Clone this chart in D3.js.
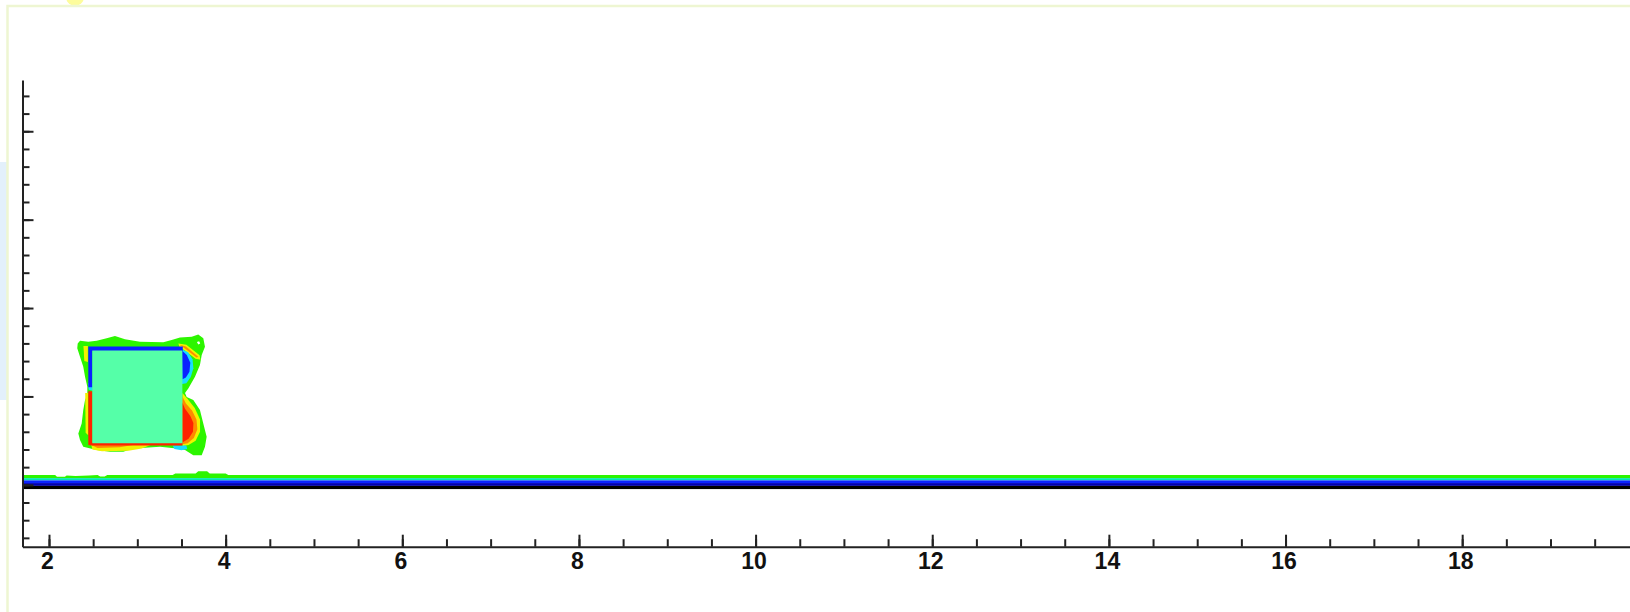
<!DOCTYPE html>
<html>
<head>
<meta charset="utf-8">
<script src="https://cdn.jsdelivr.net/npm/d3@7.9.0/dist/d3.min.js"></script>
<style>
  body { margin: 0; background: #fff; }
  svg { display: block; }
  .axis path, .axis line { stroke: #222; stroke-width: 2; }
</style>
</head>
<body>
<svg id="chart" width="1630" height="612"></svg>
<script>
// tick labels on the bottom axis
const xMajor = [2, 4, 6, 8, 10, 12, 14, 16, 18];
const yMajor = [0, 1, 2, 3, 4];

// square body (x, y in plot units)
const body = [[2.49, 0.47], [3.51, 0.47], [3.51, 1.52], [2.49, 1.52]];

// outer contour (level 0) round the square
const halo = [
  [2.325, 1.600], [2.351, 1.630], [2.445, 1.619], [2.540, 1.630], [2.653, 1.657],
  [2.747, 1.683], [2.860, 1.646], [3.030, 1.619], [3.294, 1.612], [3.389, 1.638],
  [3.483, 1.668], [3.616, 1.675], [3.690, 1.702], [3.747, 1.657], [3.766, 1.562],
  [3.729, 1.468], [3.709, 1.355], [3.653, 1.222], [3.577, 1.091], [3.540, 1.038],
  [3.559, 0.993], [3.634, 0.959], [3.709, 0.846], [3.747, 0.695], [3.785, 0.543],
  [3.766, 0.430], [3.729, 0.336], [3.634, 0.336], [3.540, 0.393], [3.446, 0.412],
  [3.257, 0.430], [2.954, 0.412], [2.841, 0.374], [2.691, 0.374], [2.540, 0.393],
  [2.388, 0.430], [2.351, 0.506], [2.332, 0.582], [2.370, 0.695], [2.388, 0.846],
  [2.408, 0.959], [2.434, 1.015], [2.434, 1.109], [2.408, 1.222], [2.388, 1.336],
  [2.351, 1.449], [2.320, 1.544]
];
const haloHole = [[3.675, 1.615], [3.700, 1.625], [3.712, 1.600], [3.690, 1.588]];

// suction side (top / left / upper right)
const topBlue = [[2.445, 1.565], [3.515, 1.565], [3.515, 1.515], [2.492, 1.515], [2.492, 1.105], [2.445, 1.105]];
const leftCyan = [[2.440, 1.150], [2.495, 1.150], [2.495, 1.065], [2.450, 1.075]];
const cornerCyan = [[3.505, 1.535], [3.575, 1.500], [3.625, 1.420], [3.635, 1.320], [3.605, 1.220], [3.555, 1.150], [3.505, 1.140]];
const cornerBlue = [[3.505, 1.520], [3.560, 1.470], [3.600, 1.380], [3.590, 1.280], [3.550, 1.215], [3.512, 1.195]];
const cornerYellow = [[3.465, 1.600], [3.555, 1.585], [3.705, 1.465], [3.715, 1.415], [3.660, 1.425], [3.530, 1.525], [3.480, 1.550]];
const cornerOrange = [[3.480, 1.585], [3.550, 1.565], [3.690, 1.450], [3.670, 1.440], [3.535, 1.545]];
const leftYellow = [[2.390, 1.570], [2.440, 1.570], [2.440, 1.390], [2.400, 1.400]];

// pressure side (left / bottom / lower right)
const leftYellowLow = [[2.410, 1.040], [2.445, 1.040], [2.445, 0.560], [2.415, 0.590]];
const leftRed = [[2.445, 1.060], [2.492, 1.060], [2.492, 0.445], [2.445, 0.450]];
const bottomYellow = [[2.480, 0.450], [3.150, 0.450], [3.050, 0.410], [2.900, 0.385], [2.600, 0.380], [2.490, 0.400]];
const bottomOrange = [[2.480, 0.450], [2.950, 0.450], [2.800, 0.425], [2.550, 0.418]];
const bottomRed = [[2.487, 0.483], [3.511, 0.483], [3.511, 0.444], [2.487, 0.444]];
const bottomCyan = [[3.400, 0.445], [3.555, 0.445], [3.565, 0.405], [3.500, 0.390], [3.420, 0.405]];
const rightYellow = [[3.510, 1.040], [3.570, 0.970], [3.650, 0.870], [3.710, 0.740], [3.710, 0.600], [3.660, 0.500], [3.580, 0.450], [3.510, 0.440]];
const rightOrange = [[3.510, 1.000], [3.550, 0.920], [3.620, 0.840], [3.670, 0.740], [3.680, 0.630], [3.640, 0.530], [3.570, 0.470], [3.510, 0.460]];
const rightRed = [[3.510, 0.930], [3.540, 0.860], [3.600, 0.780], [3.635, 0.700], [3.630, 0.600], [3.580, 0.520], [3.510, 0.480]];

// wall layer: top edge of the green band, then flat band limits
const wallTop = [
  [1.70, 0.110], [2.07, 0.110], [2.09, 0.090], [2.18, 0.090], [2.20, 0.105], [2.30, 0.100],
  [2.45, 0.105], [2.55, 0.110], [2.58, 0.095], [2.63, 0.095], [2.66, 0.110], [3.40, 0.110],
  [3.43, 0.129], [3.66, 0.129], [3.69, 0.155], [3.79, 0.155], [3.82, 0.129], [4.00, 0.129],
  [4.03, 0.110], [19.9, 0.110]
];
const wallLevels = ['seafoam', 'blue', 'navy', 'wall'];
const wallLimits = [[0.076, 0.050], [0.050, 0.020], [0.020, -0.012], [-0.012, -0.048]];

const color = d3.scaleOrdinal()
  .domain(['green', 'seafoam', 'cyan', 'blue', 'navy', 'wall', 'body', 'yellow', 'orange', 'red', 'none'])
  .range(['#2cf500', '#00e6b0', '#19dcff', '#0a22ff', '#0000b4', '#000000', '#55ffa8', '#f2f200', '#ff8a00', '#ff2200', '#ffffff']);

const svg = d3.select('#chart');
const W = 1630, H = 612;

const x = d3.scaleLinear().domain([1.7, 19.9]).range([22.5, 1630]);
const y = d3.scaleLinear().domain([-0.7, 4.58]).range([546.7, 80]);

// screenshot frame and bits of the window behind it
svg.append('rect').attr('x', 0).attr('y', 162).attr('width', 7).attr('height', 238).attr('fill', '#e3f0fb');
svg.append('circle').attr('cx', 75).attr('cy', -3).attr('r', 9).attr('fill', '#fdfc9c');
svg.append('path')
  .attr('d', `M7.5,${H} V6 H${W}`)
  .attr('fill', 'none').attr('stroke', '#eef6d2').attr('stroke-width', 2.5);

svg.append('clipPath').attr('id', 'plot')
  .append('rect').attr('x', x.range()[0]).attr('y', y.range()[1])
  .attr('width', W - x.range()[0]).attr('height', y.range()[0] - y.range()[1]);

const line = d3.line().x(d => x(d[0])).y(d => y(d[1]));
const g = svg.append('g').attr('clip-path', 'url(#plot)');

const shapes = [
  [halo, 'green'], [haloHole, 'none'],
  [leftYellow, 'yellow'], [cornerYellow, 'yellow'], [cornerOrange, 'orange'],
  [cornerCyan, 'cyan'], [cornerBlue, 'blue'], [leftCyan, 'cyan'], [topBlue, 'blue'],
  [leftYellowLow, 'yellow'], [rightYellow, 'yellow'], [rightOrange, 'orange'], [rightRed, 'red'],
  [bottomYellow, 'yellow'], [bottomOrange, 'orange'], [bottomCyan, 'cyan'],
  [leftRed, 'red'], [bottomRed, 'red'], [body, 'body']
];

g.selectAll('path.level')
  .data(shapes)
  .join('path')
  .attr('class', 'level')
  .attr('d', d => line(d[0]) + 'Z')
  .attr('fill', d => color(d[1]));

// wall bands along the bottom
const greenBand = wallTop.concat([[19.9, wallLimits[0][0]], [1.7, wallLimits[0][0]]]);
g.append('path').attr('d', line(greenBand) + 'Z').attr('fill', color('green'));
g.selectAll('rect.wall')
  .data(wallLimits)
  .join('rect')
  .attr('class', 'wall')
  .attr('x', x(1.7))
  .attr('width', x(19.9) - x(1.7))
  .attr('y', d => y(d[0]))
  .attr('height', d => y(d[1]) - y(d[0]))
  .attr('fill', (d, i) => color(wallLevels[i]));

// axes: minor ticks every 0.5 (x) and 0.2 (y), longer major ticks
const xMinor = d3.range(2, 19.9, 0.5);
const yMinor = d3.range(-0.6, 4.5, 0.2).map(v => +v.toFixed(1));

svg.append('g').attr('class', 'axis')
  .attr('transform', `translate(0,${y.range()[0]})`)
  .call(d3.axisBottom(x).tickValues(xMinor).tickSizeInner(-7.5).tickSizeOuter(0).tickFormat(''));
svg.append('g').attr('class', 'axis')
  .attr('transform', `translate(0,${y.range()[0]})`)
  .call(d3.axisBottom(x).tickValues(xMajor).tickSizeInner(-12).tickSizeOuter(0).tickPadding(6).tickFormat(d3.format('d')))
  .call(a => a.select('.domain').remove())
  .call(a => a.selectAll('text')
    .attr('dx', -2)
    .attr('fill', '#111')
    .attr('font-family', '"Liberation Sans", Arial, sans-serif')
    .attr('font-weight', 'bold')
    .attr('font-size', 23));

svg.append('g').attr('class', 'axis')
  .attr('transform', `translate(${x.range()[0]},0)`)
  .call(d3.axisLeft(y).tickValues(yMinor).tickSizeInner(-7).tickSizeOuter(0).tickFormat(''));
svg.append('g').attr('class', 'axis')
  .attr('transform', `translate(${x.range()[0]},0)`)
  .call(d3.axisLeft(y).tickValues(yMajor).tickSizeInner(-11).tickSizeOuter(0).tickFormat(''))
  .call(a => a.select('.domain').remove());
</script>
</body>
</html>
